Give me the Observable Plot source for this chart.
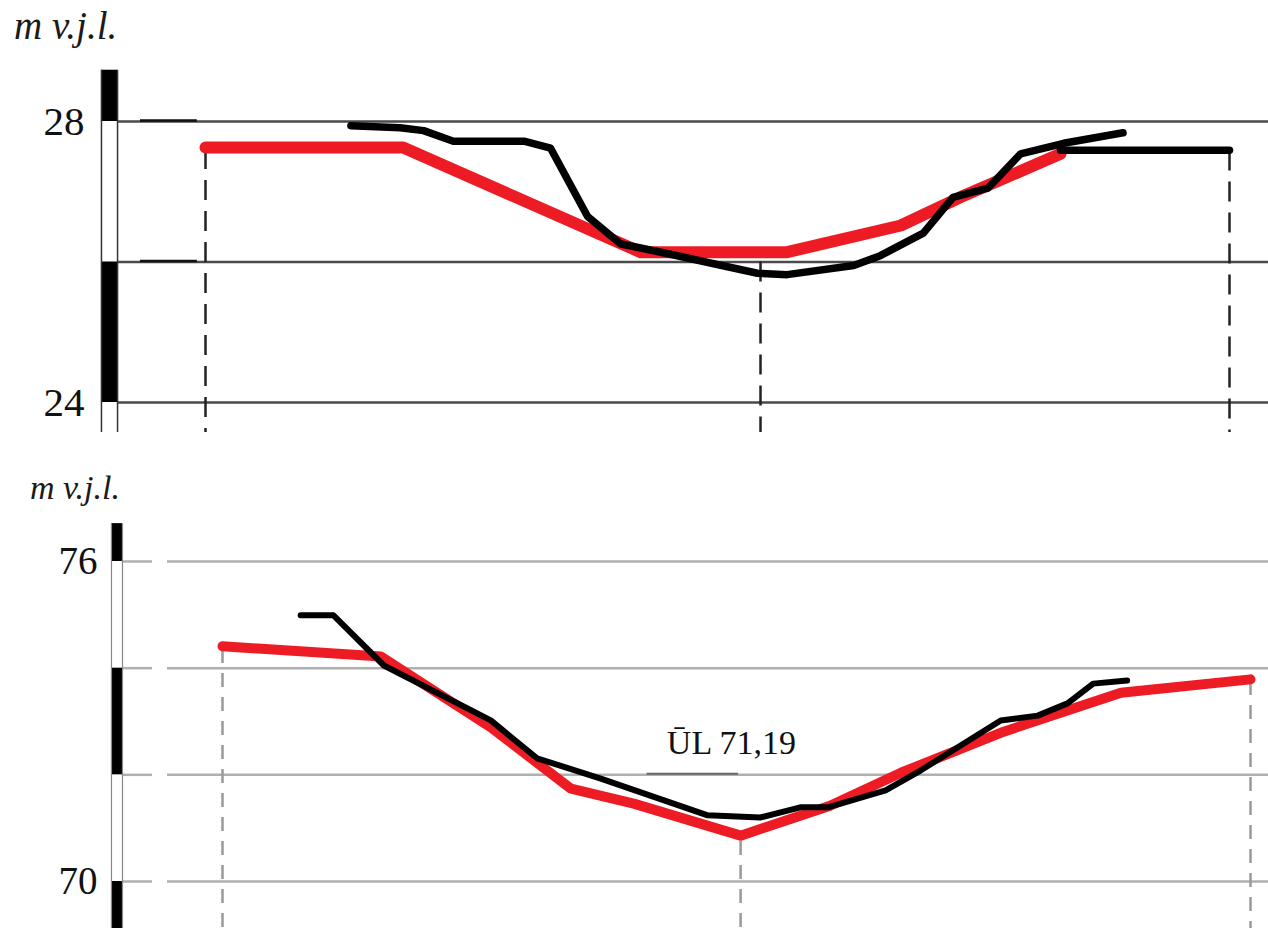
<!DOCTYPE html>
<html><head><meta charset="utf-8">
<script src="https://cdn.jsdelivr.net/npm/d3@7"></script>
<script src="https://cdn.jsdelivr.net/npm/@observablehq/plot@0.6"></script>
<style>
html,body{margin:0;padding:0;background:#fff;}
#page{position:relative;width:1268px;height:928px;overflow:hidden;background:#fff;}
.ttl{position:absolute;font-family:"Liberation Serif","Times New Roman",serif;font-style:italic;line-height:1;white-space:nowrap;color:#1a1a1a;}
#top{position:absolute;left:0;top:0;}
#bot{position:absolute;left:0;top:505px;}
</style></head><body>
<div id="page">
<div id="top"></div><div id="bot"></div>
<div class="ttl" style="left:14px;top:6px;font-size:39px">m v.j.l.</div>
<div class="ttl" style="left:30px;top:471px;font-size:34px">m v.j.l.</div>
</div>
<script>
// ---------- TOP CROSS-SECTION (m v.j.l.) ----------
const topTicks = [24, 28];
const topGrid = [28, 26, 24];
const topRedX = [0, 19.3, 42.5, 56.8, 67.9, 73.7, 83.5];
const topRedY = [27.63, 27.63, 26.14, 26.14, 26.52, 26.92, 27.54];
const topBlackX = [14.2, 19.0, 21.3, 24.2, 31.1, 33.7, 37.3, 40.5, 45.4, 53.9, 56.8, 63.3, 65.9, 70.1, 73.0, 76.4, 79.6, 83.8, 89.6];
const topBlackY = [27.94, 27.91, 27.87, 27.72, 27.72, 27.62, 26.65, 26.26, 26.11, 25.84, 25.82, 25.95, 26.09, 26.41, 26.92, 27.05, 27.54, 27.69, 27.84];
const topFlatX = [83.5, 100];
const topFlatY = [27.59, 27.59];
const topStations = [0, 54.2, 100];
const topStationTop = [27.6, 26.0, 27.58];
const topBarBlack = [[28.73, 28], [26, 24]];

// ---------- BOTTOM CROSS-SECTION (m v.j.l.) ----------
const botTicks = [70, 76];
const botGrid = [76, 74, 72, 70];
const botRedX = [0, 15.4, 26.1, 33.9, 40.0, 50.4, 59.1, 66.0, 76.0, 87.4, 100];
const botRedY = [74.41, 74.22, 72.89, 71.74, 71.46, 70.86, 71.42, 72.04, 72.81, 73.54, 73.79];
const botBlackX = [7.6, 10.8, 15.7, 26.1, 30.6, 36.8, 47.2, 52.3, 56.2, 58.9, 64.5, 67.9, 75.7, 79.3, 82.2, 84.7, 88.0];
const botBlackY = [74.99, 74.99, 74.05, 73.02, 72.31, 71.93, 71.24, 71.20, 71.39, 71.39, 71.71, 72.08, 73.02, 73.11, 73.34, 73.71, 73.77];
const botStations = [0, 50.4, 100];
const botStationTop = [74.35, 70.75, 73.75];
const botBarBlack = [[76.71, 76], [74, 72], [70, 68]];
const waterText = ["ŪL 71,19"];
const waterX = [49.5];
const waterY = [72.59];
const waterLevel = [72];

const pts = (xs, ys) => xs.map((x, i) => ({x, y: ys[i]}));
const bars = a => a.map(([y1, y2]) => ({y1, y2}));
const intFmt = d => String(d);

const topChart = Plot.plot({
  width: 1268, height: 432,
  marginLeft: 117, marginRight: 0, marginTop: 0, marginBottom: 0,
  x: {domain: [0, 100], range: [205, 1229], axis: null},
  y: {domain: [24, 28], range: [402, 121], ticks: topTicks, tickFormat: intFmt, tickSize: 0, tickPadding: 33, label: null},
  style: {fontFamily: "Liberation Serif, serif", fontSize: "41px", background: "transparent", color: "#111", overflow: "hidden"},
  marks: [
    Plot.ruleY(topGrid, {x1: -8.59, x2: 110, stroke: "#4a4a4a", strokeWidth: 2.5}),
    Plot.ruleY([28, 26], {x1: -6.35, x2: -0.8, dy: -1, stroke: "#111", strokeWidth: 2.5}),
    Plot.rect(bars(topBarBlack), {x1: -10.16, x2: -8.59, y1: "y1", y2: "y2", fill: "#000"}),
    Plot.ruleX([-10.16, -8.59], {y1: 28.73, y2: 23, stroke: "#333", strokeWidth: 1.5}),
    Plot.ruleX(pts(topStations, topStationTop), {x: "x", y1: "y", y2: 23, stroke: "#222", strokeWidth: 2.5, strokeDasharray: "20,11"}),
    Plot.line(pts(topRedX, topRedY), {x: "x", y: "y", stroke: "#ed1c24", strokeWidth: 12, strokeLinecap: "round", strokeLinejoin: "round"}),
    Plot.line(pts(topFlatX, topFlatY), {x: "x", y: "y", stroke: "#000", strokeWidth: 7.5, strokeLinecap: "round"}),
    Plot.line(pts(topBlackX, topBlackY), {x: "x", y: "y", stroke: "#000", strokeWidth: 7.5, strokeLinecap: "round", strokeLinejoin: "round"})
  ]
});
document.getElementById("top").appendChild(topChart);

const botChart = Plot.plot({
  width: 1268, height: 423,
  marginLeft: 122, marginRight: 0, marginTop: 0, marginBottom: 0,
  x: {domain: [0, 100], range: [222, 1250], axis: null},
  y: {domain: [70, 76], range: [376, 56], ticks: botTicks, tickFormat: intFmt, tickSize: 0, tickPadding: 25, label: null},
  style: {fontFamily: "Liberation Serif, serif", fontSize: "39px", background: "transparent", color: "#111", overflow: "hidden"},
  marks: [
    Plot.ruleY(botGrid, {x1: -9.73, x2: -6.81, stroke: "#b0b0b0", strokeWidth: 2.5}),
    Plot.ruleY(botGrid, {x1: -5.35, x2: 110, stroke: "#b0b0b0", strokeWidth: 2.5}),
    Plot.ruleY(waterLevel, {x1: 41.3, x2: 50.2, dy: -1, stroke: "#666", strokeWidth: 2}),
    Plot.rect(bars(botBarBlack), {x1: -10.8, x2: -9.73, y1: "y1", y2: "y2", fill: "#000"}),
    Plot.ruleX([-10.8, -9.73], {y1: 76.71, y2: 68, stroke: "#888", strokeWidth: 1.2}),
    Plot.ruleX(pts(botStations, botStationTop), {x: "x", y1: "y", y2: 68, stroke: "#999", strokeWidth: 2.5, strokeDasharray: "14,10"}),
    Plot.line(pts(botRedX, botRedY), {x: "x", y: "y", stroke: "#ed1c24", strokeWidth: 10, strokeLinecap: "round", strokeLinejoin: "round"}),
    Plot.line(pts(botBlackX, botBlackY), {x: "x", y: "y", stroke: "#000", strokeWidth: 6, strokeLinecap: "round", strokeLinejoin: "round"}),
    Plot.text(waterText, {x: waterX, y: waterY, text: d => d, fontSize: 34, fontFamily: "Liberation Serif, serif", fill: "#111"})
  ]
});
document.getElementById("bot").appendChild(botChart);
</script>
</body></html>
